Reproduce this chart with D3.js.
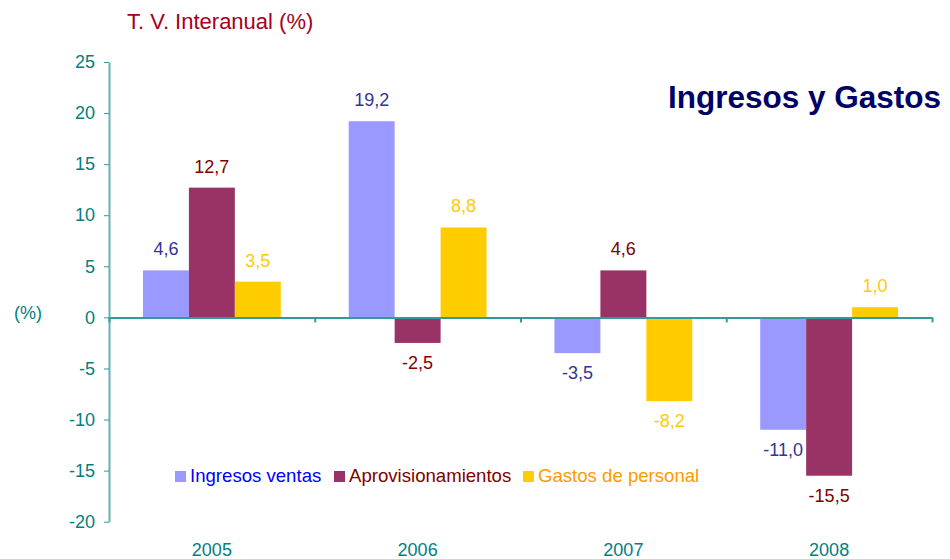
<!DOCTYPE html>
<html>
<head>
<meta charset="utf-8">
<script src="https://cdn.jsdelivr.net/npm/d3@7"></script>
<style>
  body { margin: 0; background: #fff; }
  text { font-family: "Liberation Sans", Arial, sans-serif; }
</style>
</head>
<body>
<div id="canvas"></div>
<script>
"use strict";

let svgWidth = 950;
let svgHeight = 559;

/* Data */
let years = ["2005", "2006", "2007", "2008"];
let seriesNames = ["Ingresos ventas", "Aprovisionamientos", "Gastos de personal"];
let ingresos = [4.6, 19.2, -3.5, -11.0];
let aprovisionamientos = [12.7, -2.5, 4.6, -15.5];
let gastos = [3.5, 8.8, -8.2, 1.0];
let yTicks = [25, 20, 15, 10, 5, 0, -5, -10, -15, -20];

let seriesValues = [ingresos, aprovisionamientos, gastos];
let barColors = ["#9999ff", "#993366", "#ffcc00"];
let valueColors = ["#333399", "#800000", "#ffcc00"];
let legendColors = ["#0000ff", "#800000", "#ff9900"];

let left = 109, right = 932;

let svg = d3.select("#canvas")
  .append("svg")
  .attr("width", svgWidth)
  .attr("height", svgHeight);

/* Scales */
let xScale = d3.scaleBand()
  .domain(years)
  .range([left, right])
  .paddingInner(0.33)
  .paddingOuter(0.165);

let xSub = d3.scaleBand()
  .domain(seriesNames)
  .range([0, xScale.bandwidth()]);

let yScale = d3.scaleLinear()
  .domain([-20, 25])
  .range([521.7, 62]);

/* Y axis */
let yAxis = svg.append("g")
  .attr("transform", `translate(${left},0)`)
  .call(d3.axisLeft(yScale).tickValues(yTicks).tickSize(5).tickSizeOuter(0).tickPadding(9)
    .tickFormat(d => String(d)));
yAxis.select(".domain").attr("stroke", "#66b2b2").attr("stroke-width", 2);
yAxis.selectAll(".tick line").attr("stroke", "#339999");
yAxis.selectAll(".tick text")
  .attr("fill", "#008080")
  .attr("font-size", "18px")
  .attr("font-family", "Liberation Sans, Arial, sans-serif");

/* Bars */
let flat = [];
years.forEach((yr, i) => {
  seriesNames.forEach((s, j) => {
    flat.push({ year: yr, series: s, j: j, v: seriesValues[j][i] });
  });
});

svg.selectAll("rect.bar")
  .data(flat)
  .enter()
  .append("rect")
  .attr("class", "bar")
  .attr("x", d => xScale(d.year) + xSub(d.series))
  .attr("width", xSub.bandwidth())
  .attr("y", d => yScale(Math.max(0, d.v)))
  .attr("height", d => Math.abs(yScale(d.v) - yScale(0)))
  .attr("fill", d => barColors[d.j]);

/* Zero line with category ticks */
let boundary = d3.scaleLinear().domain([0, years.length]).range([left, right]);
let xAxis = svg.append("g")
  .attr("transform", `translate(0,${yScale(0)})`)
  .call(d3.axisBottom(boundary).ticks(years.length).tickSize(5).tickSizeOuter(0).tickFormat(""));
xAxis.select(".domain").attr("stroke", "#339999").attr("stroke-width", 2);
xAxis.selectAll(".tick line").attr("stroke", "#339999").attr("stroke-width", 2);

/* Value labels */
svg.selectAll("text.value")
  .data(flat)
  .enter()
  .append("text")
  .attr("class", "value")
  .attr("x", d => xScale(d.year) + xSub(d.series) + xSub.bandwidth() / 2)
  .attr("y", d => d.v >= 0 ? yScale(d.v) - 15 : yScale(d.v) + 26)
  .attr("text-anchor", "middle")
  .attr("font-size", "18px")
  .attr("fill", d => valueColors[d.j])
  .text(d => d3.format(".1f")(d.v).replace(".", ",").replace("−", "-"));

/* Year labels */
svg.selectAll("text.year")
  .data(years)
  .enter()
  .append("text")
  .attr("class", "year")
  .attr("x", d => xScale(d) + xScale.bandwidth() / 2)
  .attr("y", 556)
  .attr("text-anchor", "middle")
  .attr("font-size", "18px")
  .attr("fill", "#008080")
  .text(d => d);

/* Titles */
svg.append("text")
  .attr("x", 127)
  .attr("y", 29)
  .attr("font-size", "22px")
  .attr("fill", "#a50021")
  .text("T. V. Interanual (%)");

svg.append("text")
  .attr("x", 14)
  .attr("y", 319)
  .attr("font-size", "18px")
  .attr("fill", "#008080")
  .text("(%)");

svg.append("text")
  .attr("x", 668)
  .attr("y", 108)
  .attr("font-size", "31.5px")
  .attr("font-weight", "bold")
  .attr("fill", "#000066")
  .text("Ingresos y Gastos");

/* Legend */
let legendX = [175, 334, 523];
seriesNames.forEach((s, j) => {
  svg.append("rect")
    .attr("x", legendX[j])
    .attr("y", 471)
    .attr("width", 11)
    .attr("height", 11)
    .attr("fill", barColors[j]);
  svg.append("text")
    .attr("x", legendX[j] + 15)
    .attr("y", 482)
    .attr("font-size", "18.6px")
    .attr("fill", legendColors[j])
    .text(s);
});
</script>
</body>
</html>
